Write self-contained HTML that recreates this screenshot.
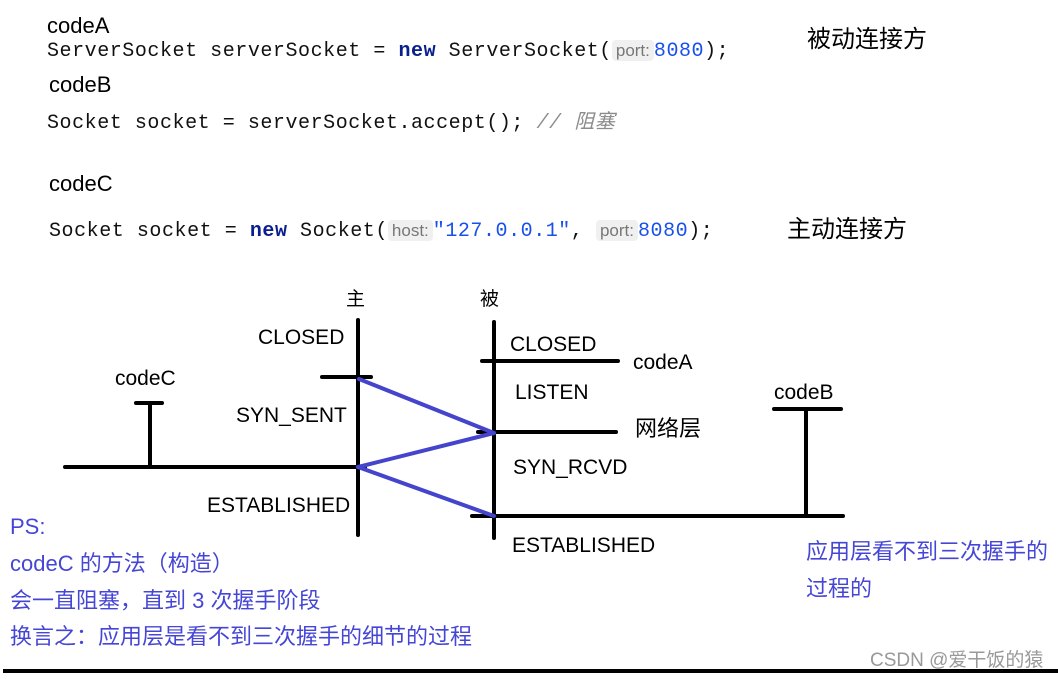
<!DOCTYPE html>
<html><head><meta charset="utf-8"><style>
body{margin:0;width:1058px;height:679px;background:#fff;position:relative;overflow:hidden;font-family:"Liberation Sans","Noto Sans CJK SC",sans-serif;}
.t{position:absolute;white-space:nowrap;line-height:1;}
.h{font-size:22px;color:#000;}
.m{font-family:"Liberation Mono","DejaVu Sans Mono",monospace;font-size:20px;letter-spacing:0.55px;color:#111;}
.kw{color:#0a1f8f;font-weight:bold}
.num{color:#1750eb}
.hint{font-family:"Liberation Sans",sans-serif;font-size:17px;letter-spacing:0;color:#777;background:#f0f0f0;border-radius:4px;padding:1px 4px;}
.lb{font-size:21px;color:#000;}
.bl{font-size:22px;color:#4646d6;font-family:"Liberation Sans","Noto Sans CJK SC",sans-serif;}
.zh{font-family:"Noto Sans CJK SC",sans-serif;font-size:24px;}
</style></head><body>
<div class="t h" style="left:47px;top:15px">codeA</div>
<div class="t m" style="left:47px;top:42px">ServerSocket serverSocket = <span class="kw">new</span> ServerSocket(<span class="hint">port:</span><span class="num">8080</span>);</div>
<div class="t h" style="left:49px;top:74px">codeB</div>
<div class="t m" style="left:47px;top:110px">Socket socket = serverSocket.accept();  <span style="color:#8c8c8c;font-style:italic">// <span style="font-family:'Noto Sans CJK SC',sans-serif">阻塞</span></span></div>
<div class="t h" style="left:49px;top:173px">codeC</div>
<div class="t m" style="left:49px;top:222px">Socket socket = <span class="kw">new</span> Socket(<span class="hint">host:</span><span class="num">"127.0.0.1"</span>, <span class="hint">port:</span><span class="num">8080</span>);</div>
<div class="t zh" style="left:807px;top:25px">被动连接方</div>
<div class="t zh" style="left:787px;top:215px">主动连接方</div>

<svg style="position:absolute;left:0;top:0" width="1058" height="679">
<g stroke="#000" stroke-width="4" stroke-linecap="round">
<line x1="358" y1="320" x2="358" y2="535"/>
<line x1="322" y1="377" x2="371" y2="377"/>
<line x1="65" y1="467" x2="365" y2="467"/>
<line x1="494" y1="322" x2="494" y2="538"/>
<line x1="482" y1="361" x2="618" y2="361"/>
<line x1="478" y1="432" x2="616" y2="432"/>
<line x1="472" y1="516" x2="843" y2="516"/>
<line x1="150" y1="403" x2="150" y2="466"/>
<line x1="136" y1="403" x2="162" y2="403"/>
<line x1="806" y1="409" x2="806" y2="516"/>
<line x1="774" y1="409" x2="841" y2="409"/>
<line x1="3" y1="671" x2="1058" y2="671" stroke-linecap="butt"/>
</g>
<g stroke="#4444cc" stroke-width="4" stroke-linecap="round">
<line x1="359" y1="379" x2="494" y2="433"/>
<line x1="494" y1="433" x2="358" y2="467"/>
<line x1="358" y1="467" x2="494" y2="516"/>
</g>
</svg>

<div class="t zh" style="left:346px;top:288px;font-size:19px">主</div>
<div class="t zh" style="left:480px;top:288px;font-size:19px">被</div>
<div class="t lb" style="left:258px;top:327px">CLOSED</div>
<div class="t lb" style="left:236px;top:405px">SYN_SENT</div>
<div class="t lb" style="left:207px;top:495px">ESTABLISHED</div>
<div class="t lb" style="left:510px;top:334px">CLOSED</div>
<div class="t lb" style="left:515px;top:382px">LISTEN</div>
<div class="t lb" style="left:513px;top:457px">SYN_RCVD</div>
<div class="t lb" style="left:512px;top:535px">ESTABLISHED</div>
<div class="t lb" style="left:633px;top:352px">codeA</div>
<div class="t zh" style="left:635px;top:416px;font-size:22px">网络层</div>
<div class="t lb" style="left:115px;top:368px">codeC</div>
<div class="t lb" style="left:774px;top:382px">codeB</div>

<div class="t bl" style="left:10px;top:516px">PS:</div>
<div class="t bl" style="left:10px;top:553px">codeC 的方法（构造）</div>
<div class="t bl" style="left:10px;top:590px">会一直阻塞，直到 3 次握手阶段</div>
<div class="t bl" style="left:10px;top:626px">换言之：应用层是看不到三次握手的细节的过程</div>
<div class="t bl" style="left:806px;top:541px">应用层看不到三次握手的</div>
<div class="t bl" style="left:806px;top:578px">过程的</div>
<div class="t" style="left:870px;top:651px;font-size:19px;color:#999;font-family:'Liberation Sans','Noto Sans CJK SC',sans-serif">CSDN @爱干饭的猿</div>
</body></html>
